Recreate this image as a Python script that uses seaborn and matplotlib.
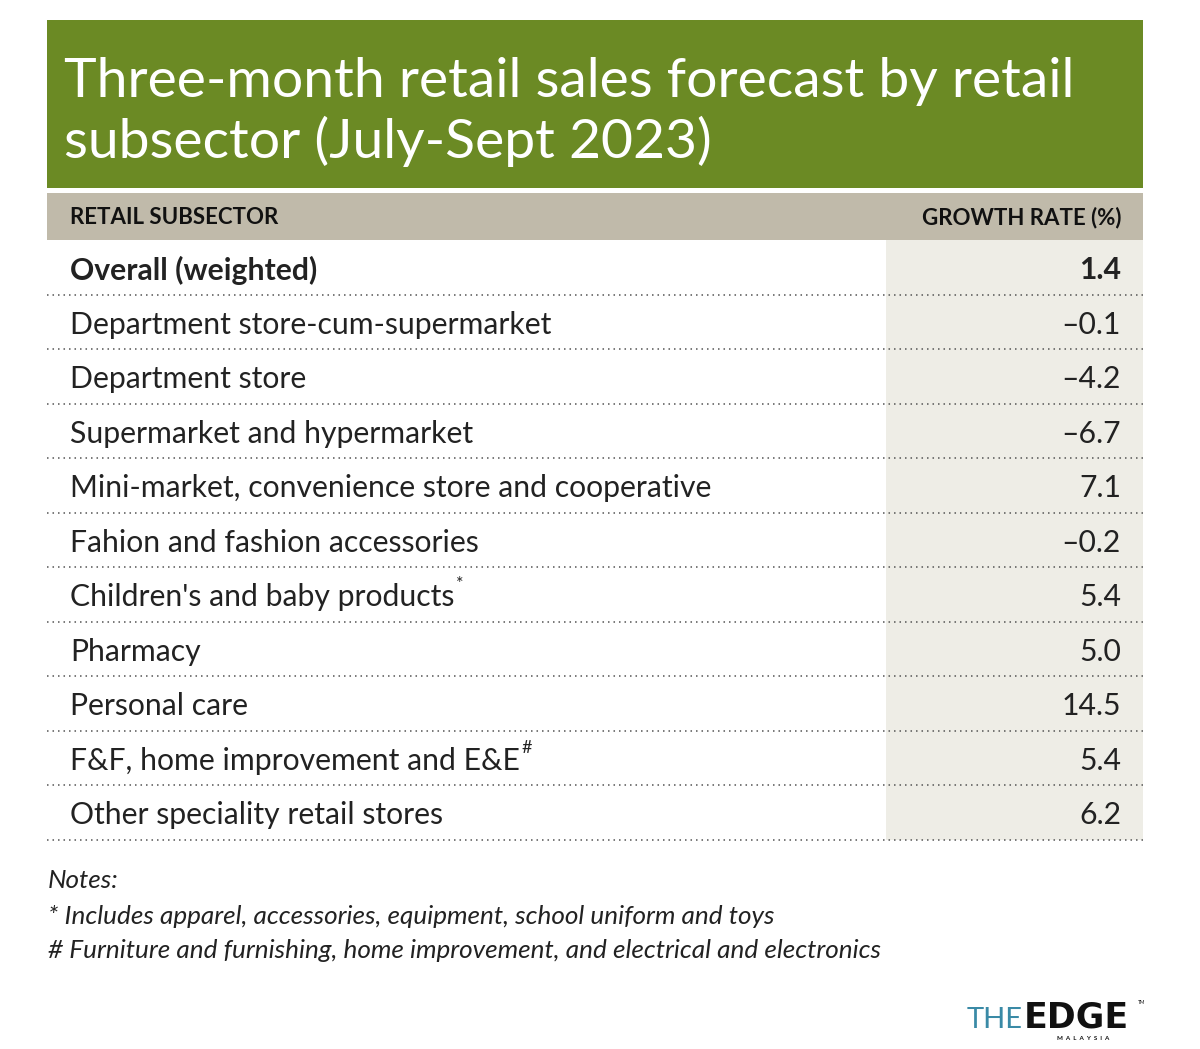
import numpy as np
import seaborn as sns
from matplotlib import pyplot as plt
from matplotlib.patches import Rectangle

# table data
subsectors = ["Overall (weighted)", "Department store-cum-supermarket", "Department store",
              "Supermarket and hypermarket", "Mini-market, convenience store and cooperative",
              "Fahion and fashion accessories", "Children's and baby products", "Pharmacy",
              "Personal care", "F&F, home improvement and E&E", "Other speciality retail stores"]
growth = [1.4, -0.1, -4.2, -6.7, 7.1, -0.2, 5.4, 5.0, 14.5, 5.4, 6.2]
marks = ["", "", "", "", "", "", "*", "", "", "#", ""]

title = ["Three-month retail sales forecast by retail", "subsector (July-Sept 2023)"]
headers = ["RETAIL SUBSECTOR", "GROWTH RATE (%)"]
notes = ["Notes:",
         "* Includes apparel, accessories, equipment, school uniform and toys",
         "# Furniture and furnishing, home improvement, and electrical and electronics"]

sns.set_theme(style="white")
plt.rcParams['font.family'] = ['Lato', 'DejaVu Sans']

GREEN = "#6B8A24"
HEAD = "#C0BAAA"
SHADE = "#EEEDE6"
TXT = "#222222"

fig = plt.figure(figsize=(12, 10.49), dpi=100)
ax = fig.add_axes([0, 0, 1, 1])
ax.set_xlim(0, 1200)
ax.set_ylim(1049, 0)
ax.axis("off")

left, right = 47, 1143
# title block
ax.add_patch(Rectangle((left, 20), right - left, 168, color=GREEN, lw=0))
for i, line in enumerate(title):
    ax.text(64, 97 + i * 61, line, color="white", fontsize=39.8, fontweight="normal",
            va="baseline", ha="left")

# header band
top, rowh = 240, 54.5
ax.add_patch(Rectangle((left, 193), right - left, top - 193, color=HEAD, lw=0))
ax.text(70, 218, headers[0], fontsize=16, fontweight="bold", color="#111111", va="center")
ax.text(1121, 218, headers[1], fontsize=16, fontweight="bold", color="#111111",
        va="center", ha="right")

# shaded value column
n = len(subsectors)
ax.add_patch(Rectangle((886, top), right - 886, rowh * n, color=SHADE, lw=0))

fig.canvas.draw()
renderer = fig.canvas.get_renderer()
inv = ax.transData.inverted()
for i, (lab, val, mk) in enumerate(zip(subsectors, growth, marks)):
    yc = top + rowh * (i + 0.5) + 3
    w = "bold" if i == 0 else "normal"
    t = ax.text(70, yc, lab, fontsize=21.7, fontweight=w, color=TXT, va="center")
    s = f"{val:.1f}".replace("-", "\u2013")
    ax.text(1121, yc, s, fontsize=21.7, fontweight=w, color=TXT, va="center", ha="right")
    if mk:
        bb = t.get_window_extent(renderer)
        xr = inv.transform((bb.x1, bb.y1))[0]
        ax.text(xr + 2, yc - 13, mk, fontsize=13, color=TXT, va="center")
    ax.hlines(top + rowh * (i + 1), left, right, colors="#555555", lw=1.1,
              linestyles=(0, (1, 2.6)))

# notes
for i, line in enumerate(notes):
    ax.text(48, 881 + i * 35, line, fontsize=18.8, fontstyle="italic", color="#222222",
            va="center")

# logo
the = ax.text(967, 1028, "THE", fontsize=21, fontweight="normal", color="#3A8AA6",
              va="baseline")
bb = the.get_window_extent(renderer)
xe = inv.transform((bb.x1, bb.y1))[0] + 1
ax.text(xe, 1028, "EDGE", fontsize=25, fontweight="bold", family="DejaVu Sans",
        color="#111111", va="baseline")
ax.text(1057, 1039, "M  A  L  A  Y  S  I  A", fontsize=4.5, fontweight="bold",
        color="#111111", va="center")
ax.text(1138, 1003, "TM", fontsize=3.5, color="#111111", va="center")

fig.savefig("out.png", dpi=100)
